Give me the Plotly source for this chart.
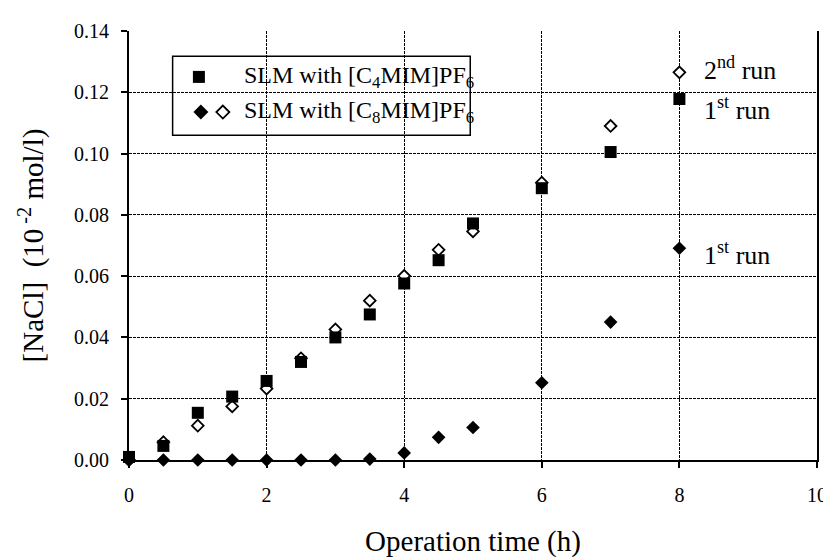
import plotly.graph_objects as go

time_h = [0, 0.5, 1, 1.5, 2, 2.5, 3, 3.5, 4, 4.5, 5, 6, 7, 8]
c4_run1 = [0.001, 0.0046, 0.0154, 0.0207, 0.0258, 0.032, 0.040, 0.0475, 0.0576, 0.0652, 0.0772, 0.0887, 0.1005, 0.1178]
c4_run2 = [0.0, 0.0058, 0.0112, 0.0175, 0.0233, 0.0332, 0.0426, 0.052, 0.0601, 0.0686, 0.0746, 0.0905, 0.109, 0.1265]
c8_run1 = [0.0, 0.0, 0.0, 0.0, 0.0, 0.0, 0.0, 0.0003, 0.0023, 0.0074, 0.0106, 0.0252, 0.045, 0.0691]

x_ticks = [0, 2, 4, 6, 8, 10]
y_ticks = [0.00, 0.02, 0.04, 0.06, 0.08, 0.10, 0.12, 0.14]

legend_labels = ["SLM with [C<sub>4</sub>MIM]PF<sub>6</sub>", "SLM with [C<sub>8</sub>MIM]PF<sub>6</sub>"]
run_labels = ["2<sup>nd</sup> run", "1<sup>st</sup> run", "1<sup>st</sup> run"]
run_label_y = [0.1278, 0.1148, 0.0675]

FONT = "Liberation Serif, Times New Roman, serif"
SQ = 12
FD = 10.5
OD = 9

fig = go.Figure()
fig.add_trace(go.Scatter(x=time_h, y=c4_run2, mode="markers", cliponaxis=False,
                         marker=dict(symbol="diamond", size=OD, color="white",
                                     line=dict(color="black", width=1.8)), showlegend=False))
fig.add_trace(go.Scatter(x=time_h, y=c4_run1, mode="markers", cliponaxis=False,
                         marker=dict(symbol="square", size=SQ, color="black",
                                     line=dict(color="black", width=0)), showlegend=False))
fig.add_trace(go.Scatter(x=time_h, y=c8_run1, mode="markers", cliponaxis=False,
                         marker=dict(symbol="diamond", size=FD, color="black",
                                     line=dict(color="black", width=0)), showlegend=False))

# manual legend glyphs on an overlay axis in plot-fraction units
fig.add_trace(go.Scatter(x=[0.1016], y=[0.893], xaxis="x2", yaxis="y2", mode="markers",
                         marker=dict(symbol="square", size=SQ, color="black"), showlegend=False))
fig.add_trace(go.Scatter(x=[0.1045], y=[0.811], xaxis="x2", yaxis="y2", mode="markers",
                         marker=dict(symbol="diamond", size=FD + 1, color="black"), showlegend=False))
fig.add_trace(go.Scatter(x=[0.1364], y=[0.811], xaxis="x2", yaxis="y2", mode="markers",
                         marker=dict(symbol="diamond", size=OD + 1, color="white",
                                     line=dict(color="black", width=1.8)), showlegend=False))

fig.add_shape(type="rect", xref="paper", yref="paper", x0=0.0634, x1=0.496, y0=0.757, y1=0.941,
              line=dict(color="black", width=1.5), fillcolor="white", layer="below")

for lab, yy in zip(legend_labels, [0.893, 0.811]):
    fig.add_annotation(x=0.164, y=yy, xref="paper", yref="paper", text=lab, showarrow=False,
                       xanchor="left", yanchor="middle", font=dict(family=FONT, size=24, color="black"))

for lab, yy in zip(run_labels, run_label_y):
    fig.add_annotation(x=8.33, y=yy, text=lab, showarrow=False, xanchor="left", yanchor="middle",
                       font=dict(family=FONT, size=26, color="black"))

fig.update_layout(
    width=831, height=558,
    margin=dict(l=121, r=21, t=12, b=106),
    paper_bgcolor="white", plot_bgcolor="white",
    font=dict(family=FONT, size=20, color="black"),
    xaxis=dict(range=[0, 10], tickvals=x_ticks, ticktext=[str(v) for v in x_ticks],
               showgrid=True, gridcolor="black", gridwidth=1, griddash="3px,1px",
               showline=True, linecolor="black", linewidth=2, ticks="outside", ticklen=6,
               tickwidth=1.5, tickcolor="black", zeroline=False, mirror=False,
               ticklabelstandoff=10,
               title=dict(text="Operation time (h)", font=dict(family=FONT, size=29), standoff=26),
               tickfont=dict(family=FONT, size=20)),
    yaxis=dict(range=[0, 0.14], tickvals=y_ticks, ticktext=[f"{v:.2f}" for v in y_ticks],
               showgrid=True, gridcolor="black", gridwidth=1, griddash="3px,1px",
               showline=True, linecolor="black", linewidth=2, ticks="outside", ticklen=6,
               tickwidth=1.5, tickcolor="black", zeroline=False, mirror=True,
               ticklabelstandoff=8,
               title=dict(text="[NaCl]\u00a0\u00a0(10<sup>\u00a0-2</sup> mol/l)", font=dict(family=FONT, size=29), standoff=22),
               tickfont=dict(family=FONT, size=20)),
    xaxis2=dict(range=[0, 1], overlaying="x", visible=False, fixedrange=True),
    yaxis2=dict(range=[0, 1], overlaying="y", visible=False, fixedrange=True),
)

fig.write_html("out.html")
